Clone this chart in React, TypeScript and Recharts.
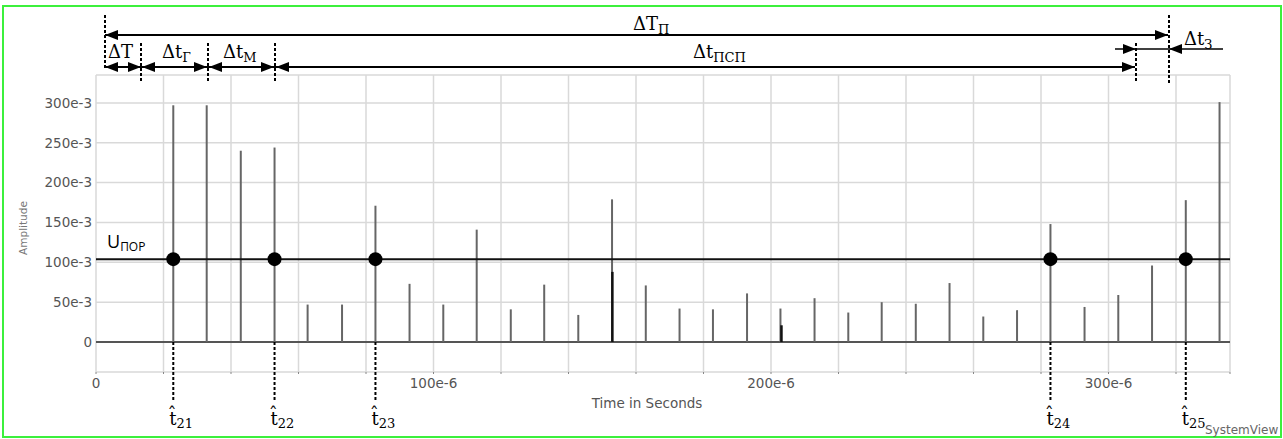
import React from 'react';
import { ComposedChart, XAxis, YAxis, CartesianGrid, ReferenceLine, Scatter } from 'recharts';

// pulse times in microseconds, amplitudes in 1e-3 units
const pulseTimes = [
  22.9, 32.8, 42.9, 52.9, 62.7, 72.9, 82.8, 92.9, 102.9, 112.8, 122.9, 132.8, 142.9, 152.9, 162.9, 172.9,
  182.8, 192.9, 202.8, 212.9, 222.9, 232.8, 242.9, 252.9, 262.9, 272.9, 282.8, 292.9, 302.9, 312.9, 322.9, 332.9,
];
const pulseAmps = [
  297, 297, 240, 244, 47, 47, 171, 73, 47, 141, 41, 72, 34, 179, 71, 42,
  41, 61, 42, 55, 37, 50, 48, 74, 32, 40, 148, 44, 59, 96, 178, 301,
];
// short overlapping pulses drawn darker
const extraTimes = [153.0, 203.1];
const extraAmps = [88, 21];

const threshold = 104;
const crossIndex = [0, 3, 6, 26, 30];
const crossLabels = ['21', '22', '23', '24', '25'];

const xTicks = [0, 20, 40, 60, 80, 100, 120, 140, 160, 180, 200, 220, 240, 260, 280, 300, 320, 336];
const yTicks = [0, 50, 100, 150, 200, 250, 300];

const tickFont = { fontFamily: 'DejaVu Sans', fontSize: 13.5, fill: '#555' };
const serif = 'DejaVu Serif';
const tHat = 't\u0302';

const crossPoints = crossIndex.map((i) => ({ t: pulseTimes[i], v: threshold }));

const fmtX = (v: number) => (v % 100 === 0 ? (v === 0 ? '0' : `${v}e-6`) : '');

const XTick = (props: any) => {
  const { x, y, payload } = props;
  const label = fmtX(payload.value);
  if (!label) return null;
  return (
    <text x={x} y={y} dy="0.71em" textAnchor="middle" {...tickFont}>
      {label}
    </text>
  );
};

const Head = ({ x, y, dir }: { x: number; y: number; dir: number }) => (
  <polygon points={`${x},${y} ${x - dir * 13},${y - 5} ${x - dir * 13},${y + 5}`} fill="#000" />
);

const Dashed = ({ x, y1, y2 }: { x: number; y1: number; y2: number }) => (
  <line x1={x} y1={y1} x2={x} y2={y2} stroke="#000" strokeWidth={2} strokeDasharray="3 2" />
);

const Overlay = () => (
  <svg width={1283} height={439} style={{ position: 'absolute', left: 0, top: 0, pointerEvents: 'none' }}>
    <rect x={3} y={6} width={1278} height={431} fill="none" stroke="#3cf03c" strokeWidth={2} />

    {/* interval markers */}
    <Dashed x={105} y1={15} y2={68} />
    <Dashed x={1169} y1={15} y2={83} />
    <Dashed x={141} y1={43} y2={83} />
    <Dashed x={208} y1={43} y2={83} />
    <Dashed x={275} y1={43} y2={83} />
    <Dashed x={1136} y1={43} y2={83} />

    <line x1={105} y1={35} x2={1168} y2={35} stroke="#000" strokeWidth={2} />
    <Head x={105} y={35} dir={-1} />
    <Head x={1168} y={35} dir={1} />

    <line x1={105} y1={67} x2={1135} y2={67} stroke="#000" strokeWidth={2} />
    <Head x={105} y={67} dir={-1} />
    <Head x={141} y={67} dir={1} />
    <Head x={142} y={67} dir={-1} />
    <Head x={207} y={67} dir={1} />
    <Head x={209} y={67} dir={-1} />
    <Head x={274} y={67} dir={1} />
    <Head x={276} y={67} dir={-1} />
    <Head x={1135} y={67} dir={1} />

    <line x1={1115} y1={49} x2={1223} y2={49} stroke="#000" strokeWidth={1.5} />
    <Head x={1136} y={49} dir={1} />
    <Head x={1169} y={49} dir={-1} />

    <g fontFamily={serif} fontSize={18} fill="#000">
      <text x={633} y={30}>ΔT<tspan fontSize={13} dy={4}>П</tspan></text>
      <text x={108} y={58}>ΔT</text>
      <text x={162} y={58}>Δt<tspan fontSize={13} dy={4}>Г</tspan></text>
      <text x={223} y={58}>Δt<tspan fontSize={13} dy={4}>М</tspan></text>
      <text x={693} y={58}>Δt<tspan fontSize={13} dy={4}>ПСП</tspan></text>
      <text x={1184} y={45}>Δt<tspan fontSize={13} dy={4}>З</tspan></text>
    </g>

    <text x={107} y={248} fontFamily="Open Sans" fontSize={18} fill="#000">
      U<tspan fontSize={12} dy={3}>ПОР</tspan>
    </text>

    <text x={24} y={228} transform="rotate(-90 24 228)" textAnchor="middle" dominantBaseline="middle"
      fontFamily="DejaVu Sans" fontSize={10.5} fill="#777">Amplitude</text>
    <text x={647} y={408} textAnchor="middle" fontFamily="DejaVu Sans" fontSize={13.5} fill="#555">Time in Seconds</text>
    <text x={1205} y={434} fontFamily="DejaVu Sans" fontSize={12} fill="#666">SystemView</text>
  </svg>
);

const Spike = (props: any) => {
  const { x1, y1, x2, y2, stroke, strokeWidth } = props;
  return <line x1={x1} y1={y1} x2={x2} y2={y2} stroke={stroke} strokeWidth={strokeWidth} />;
};

const Marker = (label: string) => (props: any) => {
  const { x1, y1, x2, y2 } = props;
  return (
    <g>
      <line x1={x1} y1={y1} x2={x2} y2={y2} stroke="#000" strokeWidth={2} strokeDasharray="3 2" />
      <text x={x2 - 4} y={y2 + 23} fontFamily={serif} fontSize={18} fill="#000">
        {tHat}<tspan fontSize={13} dy={3}>{label}</tspan>
      </text>
    </g>
  );
};

const Dot = (props: any) => <circle cx={props.cx} cy={props.cy} r={7} fill="#000" />;

export default function App() {
  return (
    <div style={{ position: 'absolute', left: 0, top: 0, width: 1283, height: 439, background: '#fff' }}>
      <ComposedChart width={1283} height={439} margin={{ top: 75, right: 53, bottom: 37, left: 36 }}>
        <CartesianGrid stroke="#d9d9d9" strokeWidth={1.5} />
        <XAxis
          type="number"
          dataKey="t"
          domain={[0, 336]}
          ticks={xTicks}
          allowDataOverflow
          interval={0}
          height={30}
          axisLine={false}
          tickLine={{ stroke: '#888' }}
          tickSize={2}
          tickMargin={4}
          tick={XTick}
        />
        <YAxis
          type="number"
          domain={[-37.6, 335]}
          ticks={yTicks}
          allowDataOverflow
          interval={0}
          width={60}
          axisLine={false}
          tickLine={false}
          tickSize={2}
          tickMargin={2}
          tick={tickFont}
          tickFormatter={(v: number) => (v === 0 ? '0' : `${v}e-3`)}
        />
        <ReferenceLine y={0} stroke="#555" strokeWidth={2} />
        {pulseTimes.map((t, i) => (
          <ReferenceLine key={`p${i}`} segment={[{ x: t, y: 0 }, { x: t, y: pulseAmps[i] }]}
            stroke="#666" strokeWidth={2} ifOverflow="visible" shape={Spike} />
        ))}
        {extraTimes.map((t, i) => (
          <ReferenceLine key={`e${i}`} segment={[{ x: t, y: 0 }, { x: t, y: extraAmps[i] }]}
            stroke="#111" strokeWidth={2.5} ifOverflow="visible" shape={Spike} />
        ))}
        <ReferenceLine y={threshold} stroke="#111" strokeWidth={2} />
        {crossIndex.map((idx, i) => (
          <ReferenceLine key={`m${i}`} segment={[{ x: pulseTimes[idx], y: 0 }, { x: pulseTimes[idx], y: -75 }]}
            ifOverflow="visible" shape={Marker(crossLabels[i])} />
        ))}
        <Scatter data={crossPoints} dataKey="v" fill="#000" shape={Dot} isAnimationActive={false} />
      </ComposedChart>
      <Overlay />
    </div>
  );
}
